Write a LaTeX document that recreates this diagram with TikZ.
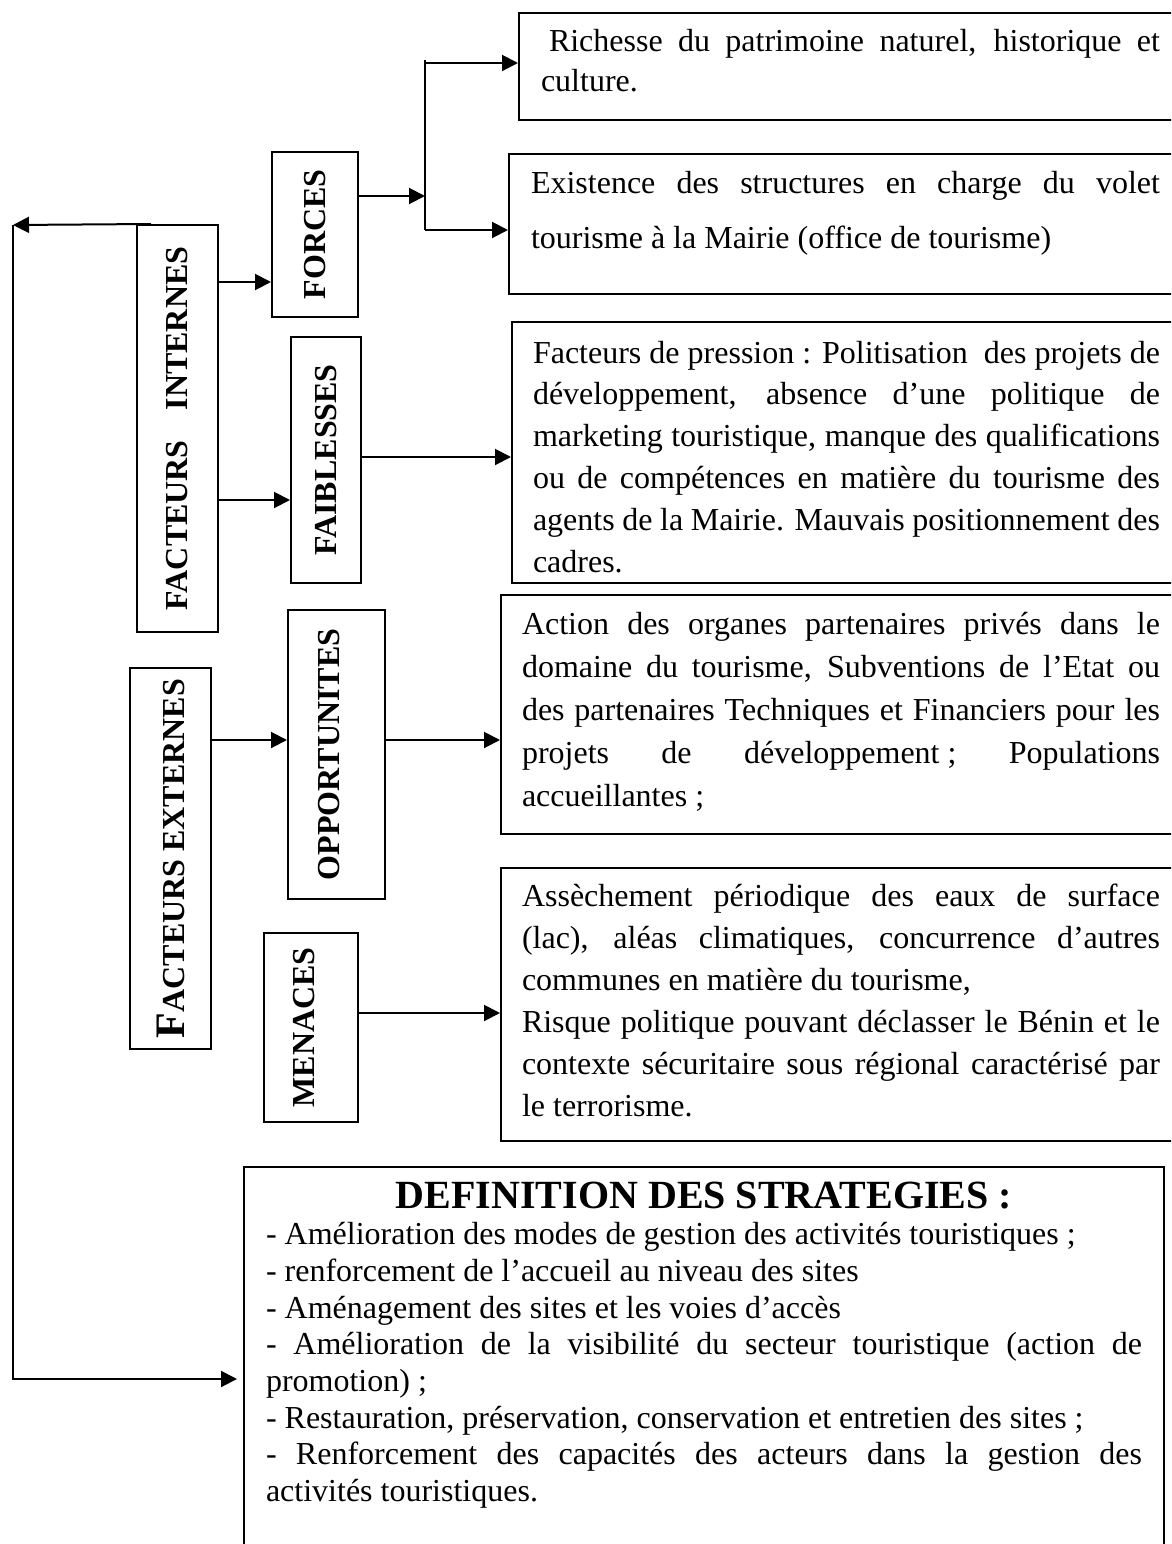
\documentclass[tikz,border=0pt]{standalone}
\usepackage{graphicx}
\usepackage{fontspec}
\setmainfont{Liberation Serif}[Ligatures={TeX,NoCommon}]
\usetikzlibrary{arrows.meta}

\begin{document}
\begin{tikzpicture}[x=1pt, y=-1pt,
    factor/.style={draw, line width=2pt, inner sep=0pt, font=\fontsize{32pt}{32pt}\selectfont\bfseries},
    detail/.style={draw, line width=2pt, anchor=north west, inner ysep=0pt, inner xsep=21pt, align=justify, font=\fontsize{32pt}{42pt}\selectfont},
    arrow/.style={-{Triangle[length=16pt,width=16pt]}, line width=2pt}
]
\useasboundingbox (0,0) rectangle (1171,1544);
\clip (0,0) rectangle (1171,1544);

% Factors
\node[factor, minimum width=81, minimum height=407] (internes) at (177.5,428.5) {\rotatebox{90}{FACTEURS\hspace{30pt}INTERNES}};
\node[factor, minimum width=81, minimum height=381] (externes) at (170.5,858.5) {\rotatebox{90}{{\fontsize{42pt}{42pt}\selectfont F}ACTEURS EXTERNES}};

% SWOT
\node[factor, minimum width=86, minimum height=165] (forces) at (315,234.5) {\rotatebox{90}{FORCES}};
\node[factor, minimum width=70, minimum height=246] (faiblesses) at (326,460) {\rotatebox{90}{FAIBLESSES}};
\node[factor, minimum width=97, minimum height=289] (opportunites) at (336.5,754.5) {\rotatebox{90}{\raisebox{-2.5pt}[0pt][0pt]{OPPORTUNITES}}};
\node[factor, minimum width=94, minimum height=189] (menaces) at (311,1027.5) {\rotatebox{90}{\raisebox{-3.5pt}[0pt][0pt]{MENACES}}};

% Details
\node[detail, inner xsep=22pt, text width=619pt, text height=39pt, text depth=68pt, font=\fontsize{32pt}{40pt}\selectfont] (richesse) at (518,12)
  {\hspace*{8pt}Richesse du patrimoine naturel, historique et\linebreak culture.};
\node[detail, inner xsep=22pt, text width=629pt, text height=39pt, text depth=101pt, font=\fontsize{32pt}{55pt}\selectfont] (existence) at (508,153)
  {Existence des structures en charge du volet\linebreak tourisme à la Mairie (office de tourisme)};
\node[detail, text width=627pt, text height=41pt, text depth=220pt, font=\fontsize{32pt}{41.8pt}\selectfont] (pression) at (511,321)
  {Facteurs de pression : Politisation\ \ des projets de\linebreak développement, absence d’une politique de\linebreak marketing touristique, manque des qualifications\linebreak ou de compétences en matière du tourisme des\linebreak agents de la Mairie. Mauvais positionnement des\linebreak cadres.};
\node[detail, text width=638pt, text height=39pt, text depth=200pt, font=\fontsize{32pt}{43pt}\selectfont] (action) at (500,594)
  {Action des organes partenaires privés dans le\linebreak domaine du tourisme, Subventions de l’Etat ou\linebreak des partenaires Techniques et Financiers pour les\linebreak projets de \mbox{développement ;} Populations\linebreak accueillantes ;};
\node[detail, text width=638pt, text height=38pt, text depth=235pt] (assech) at (500,867)
  {Assèchement périodique des eaux de surface\linebreak (lac), aléas climatiques, concurrence d’autres\linebreak communes en matière du tourisme,\par
   Risque politique pouvant déclasser le Bénin et le\linebreak contexte sécuritaire sous régional caractérisé par\linebreak le terrorisme.};

% Strategies
\node[detail, inner xsep=22pt, text width=876pt, text height=41pt, text depth=393pt, font=\fontsize{32pt}{36.7pt}\selectfont] (strategies) at (243,1166)
  {{\centering\fontsize{40pt}{40pt}\selectfont\bfseries DEFINITION DES STRATEGIES :\par}
   - Amélioration des modes de gestion des activités touristiques ;\par
   - renforcement de l’accueil au niveau des sites\par
   - Aménagement des sites et les voies d’accès\par
   - Amélioration de la visibilité du secteur touristique (action de\linebreak promotion) ;\par
   - Restauration, préservation, conservation et entretien des sites ;\par
   - Renforcement des capacités des acteurs dans la gestion des\linebreak activités touristiques.};

% Arrows
\draw[arrow] (internes.east |- 0,282) -- (forces.west |- 0,282);
\draw[arrow] (internes.east |- 0,500) -- (faiblesses.west |- 0,500);

\coordinate (forktop) at (425,60);
\coordinate (forkbot) at (425,230);
\draw[line width=2pt] (forktop) -- (forkbot);
\draw[arrow] (forces.east |- 0,196) -- (forktop |- 0,196);
\draw[arrow] (forktop |- 0,63) -- (richesse.west |- 0,63);
\draw[arrow] (forkbot) -- (existence.west |- forkbot);

\draw[arrow] (faiblesses.east |- 0,457) -- (pression.west |- 0,457);
\draw[arrow] (externes.east |- 0,740) -- (opportunites.west |- 0,740);
\draw[arrow] (opportunites.east |- 0,740) -- (action.west |- 0,740);
\draw[arrow] (menaces.east |- 0,1013) -- (assech.west |- 0,1013);

% Feedback
\coordinate (loop) at (13,225);
\draw[arrow] ([xshift=15pt]internes.north west) -- (loop);
\draw[arrow, shorten >=6pt] (loop) -- (loop |- 0,1379) -- (strategies.west |- 0,1379);

\end{tikzpicture}
\end{document}
